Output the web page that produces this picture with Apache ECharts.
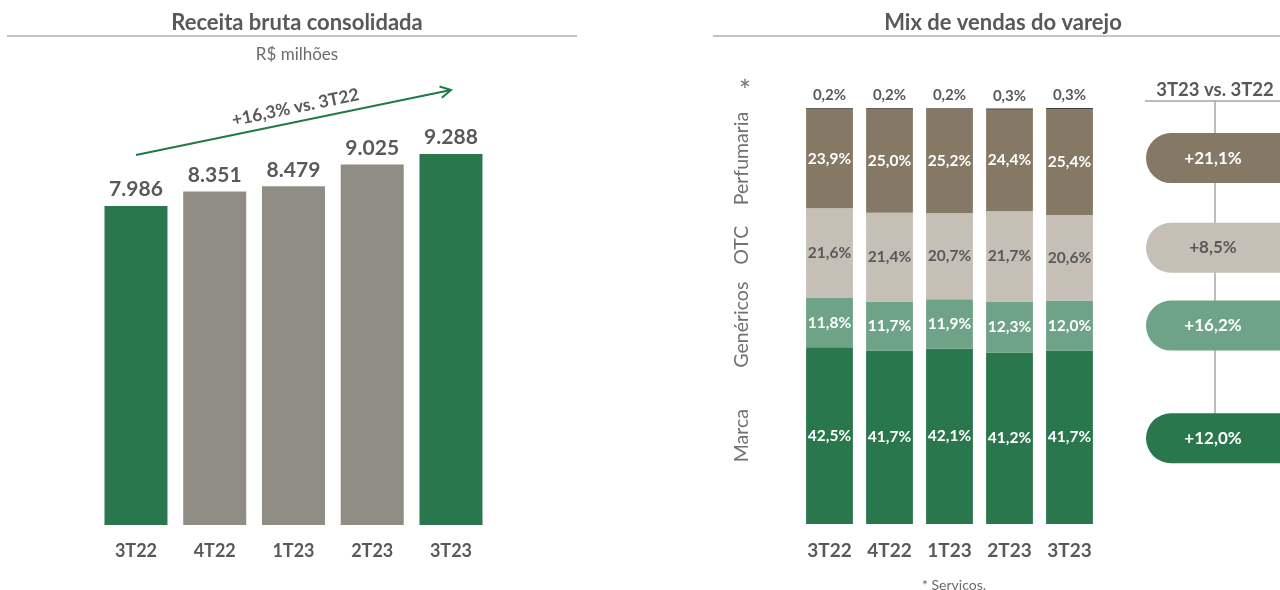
<!DOCTYPE html>
<html lang="pt-BR">
<head>
    <meta charset="UTF-8">
    <title>Receita bruta e mix de vendas</title>
    <script src="https://cdn.jsdelivr.net/npm/echarts@6/dist/echarts.min.js"></script>
    <style type="text/css">
        html, body {
            margin: 0;
            padding: 0;
            background: #ffffff;
        }

        #chart {
            width: 1280px;
            height: 590px;
        }
    </style>
</head>
<body>
<div id="chart"></div>
<script type="text/javascript">
    // dados
    const trimestres = ['3T22', '4T22', '1T23', '2T23', '3T23'];
    const receitaBruta = [7986, 8351, 8479, 9025, 9288];
    const variacaoReceita = '+16,3% vs. 3T22';

    const segmentos = ['Marca', 'Genéricos', 'OTC', 'Perfumaria', '*'];
    const marca = [42.5, 41.7, 42.1, 41.2, 41.7];
    const genericos = [11.8, 11.7, 11.9, 12.3, 12.0];
    const otc = [21.6, 21.4, 20.7, 21.7, 20.6];
    const perfumaria = [23.9, 25.0, 25.2, 24.4, 25.4];
    const servicos = [0.2, 0.2, 0.2, 0.3, 0.3];
    // 3T23 vs. 3T22, na ordem Marca, Genéricos, OTC, Perfumaria
    const crescimento = ['+12,0%', '+16,2%', '+8,5%', '+21,1%'];

    const FONT = 'Lato';
    const CINZA_TEXTO = '#595959';
    const VERDE = '#2a764d';
    const cores = ['#2a764d', '#6fa387', '#c6bfb5', '#857864', '#3b3b3b'];
    const corTextoSeg = ['#ffffff', '#ffffff', '#595959', '#ffffff', '#595959'];
    // pequenos ajustes verticais (px) dos rótulos laterais e das pílulas
    const ajusteRotulo = [0, 2, -8, 0];
    const ajustePilula = [1, 0, -10, -4];

    function milhar(v) {
        return String(v).replace(/\B(?=(\d{3})+(?!\d))/g, '.');
    }

    function pct(v) {
        return v.toFixed(1).replace('.', ',') + '%';
    }

    const chart = echarts.init(document.getElementById('chart'));

    const mixSeries = [marca, genericos, otc, perfumaria, servicos].map((vals, i) => ({
        name: segmentos[i],
        type: 'bar',
        stack: 'mix',
        xAxisIndex: 1,
        yAxisIndex: 1,
        barCategoryGap: '22%',
        data: vals,
        itemStyle: {color: cores[i]},
        label: {
            show: true,
            position: i === 4 ? 'top' : 'inside',
            distance: 5,
            formatter: p => pct(p.value),
            color: corTextoSeg[i],
            fontFamily: FONT,
            fontWeight: 'bold',
            fontSize: i === 4 ? 15 : 15.5
        }
    }));

    chart.setOption({
        animation: false,
        textStyle: {fontFamily: FONT},
        title: [
            {
                text: 'Receita bruta consolidada', left: 292, top: 7, textAlign: 'center',
                textStyle: {fontSize: 22, fontWeight: 'bold', color: CINZA_TEXTO, fontFamily: FONT}
            },
            {
                text: 'R$ milhões', left: 292, top: 41, textAlign: 'center',
                textStyle: {fontSize: 17, fontWeight: 'normal', color: '#6b6b6b', fontFamily: FONT}
            },
            {
                text: 'Mix de vendas do varejo', left: 998, top: 7, textAlign: 'center',
                textStyle: {fontSize: 22, fontWeight: 'bold', color: CINZA_TEXTO, fontFamily: FONT}
            },
            {
                text: '* Serviços.', left: 949, top: 573, textAlign: 'center',
                textStyle: {fontSize: 14, fontWeight: 'normal', color: '#6b6b6b', fontFamily: FONT}
            }
        ],
        grid: [
            {left: 96.6, width: 393.75, top: 125.5, bottom: 65},
            {left: 799.5, width: 300, top: 108, bottom: 66}
        ],
        xAxis: [
            {
                type: 'category', gridIndex: 0, data: trimestres,
                axisLine: {show: false}, axisTick: {show: false},
                axisLabel: {margin: 17, fontSize: 18, fontWeight: 'bold', color: CINZA_TEXTO, fontFamily: FONT}
            },
            {
                type: 'category', gridIndex: 1, data: trimestres,
                axisLine: {show: false}, axisTick: {show: false},
                axisLabel: {margin: 17, fontSize: 19, fontWeight: 'bold', color: CINZA_TEXTO, fontFamily: FONT}
            }
        ],
        yAxis: [
            {type: 'value', gridIndex: 0, min: 0, max: 10000, show: false},
            {type: 'value', gridIndex: 1, min: 0, max: 100, show: false}
        ],
        series: [
            {
                name: 'Receita bruta',
                type: 'bar',
                barCategoryGap: '20%',
                data: receitaBruta,
                itemStyle: {
                    color: p => (p.dataIndex === 0 || p.dataIndex === receitaBruta.length - 1) ? VERDE : '#8f8d84'
                },
                label: {
                    show: true, position: 'top', distance: 6,
                    formatter: p => milhar(p.value),
                    fontSize: 21, fontWeight: 'bold', color: CINZA_TEXTO, fontFamily: FONT
                }
            }
        ].concat(mixSeries)
    });

    // posições derivadas dos eixos
    const yMix = v => chart.convertToPixel({yAxisIndex: 1}, v);
    const xRec = i => chart.convertToPixel({xAxisIndex: 0}, trimestres[i]);
    const yRec = v => chart.convertToPixel({yAxisIndex: 0}, v);

    const serieMix = [marca, genericos, otc, perfumaria, servicos];
    function meioSegmento(k, seg) {
        let base = 0;
        for (let s = 0; s < seg; s++) base += serieMix[s][k];
        return yMix(base + serieMix[seg][k] / 2);
    }

    const graficos = [];
    // linhas sob os títulos
    graficos.push({
        type: 'line', shape: {x1: 7, y1: 36, x2: 577, y2: 36},
        style: {stroke: '#c4c4c4', lineWidth: 2}
    });
    graficos.push({
        type: 'line', shape: {x1: 713, y1: 36, x2: 1280, y2: 36},
        style: {stroke: '#c4c4c4', lineWidth: 2}
    });

    // seta de crescimento
    const ax1 = xRec(0), ay1 = yRec(receitaBruta[0]) - 51;
    const ax2 = xRec(4), ay2 = yRec(receitaBruta[4]) - 64;
    const ang = Math.atan2(ay2 - ay1, ax2 - ax1);
    graficos.push({
        type: 'line', shape: {x1: ax1, y1: ay1, x2: ax2, y2: ay2},
        style: {stroke: '#1f7a45', lineWidth: 2}
    });
    graficos.push({
        type: 'polyline',
        shape: {
            points: [
                [ax2 - 12 * Math.cos(ang - 0.5), ay2 - 12 * Math.sin(ang - 0.5)],
                [ax2, ay2],
                [ax2 - 12 * Math.cos(ang + 0.5), ay2 - 12 * Math.sin(ang + 0.5)]
            ]
        },
        style: {stroke: '#1f7a45', lineWidth: 2, fill: null}
    });
    graficos.push({
        type: 'text',
        x: (ax1 + ax2) / 2 + 2, y: (ay1 + ay2) / 2 - 15,
        rotation: -ang,
        style: {
            text: variacaoReceita, align: 'center', verticalAlign: 'middle',
            font: 'bold 17.5px ' + FONT, fill: CINZA_TEXTO
        }
    });

    // rótulos verticais dos segmentos
    for (let s = 0; s < 4; s++) {
        graficos.push({
            type: 'text', x: 742, y: meioSegmento(0, s) + ajusteRotulo[s], rotation: Math.PI / 2,
            style: {
                text: segmentos[s], align: 'center', verticalAlign: 'middle',
                font: '19.5px ' + FONT, fill: '#707070'
            }
        });
    }
    graficos.push({
        type: 'text', x: 745, y: yMix(100) - 16,
        style: {text: segmentos[4], align: 'center', verticalAlign: 'middle', font: '28px ' + FONT, fill: '#707070'}
    });

    // comparação 3T23 vs. 3T22
    const px = 1215;
    const pillY = [0, 1, 2, 3].map(s => meioSegmento(4, s) + ajustePilula[s]);
    graficos.push({
        type: 'text', x: px, y: 90,
        style: {text: '3T23 vs. 3T22', align: 'center', verticalAlign: 'middle', font: 'bold 18.5px ' + FONT, fill: CINZA_TEXTO}
    });
    graficos.push({
        type: 'line', shape: {x1: 1145, y1: 101, x2: 1280, y2: 101},
        style: {stroke: '#a6a6a6', lineWidth: 1.5}
    });
    graficos.push({
        type: 'line', shape: {x1: px, y1: 101, x2: px, y2: pillY[0]},
        style: {stroke: '#a6a6a6', lineWidth: 1.5}
    });
    for (let s = 0; s < 4; s++) {
        graficos.push({
            type: 'rect', shape: {x: 1146, y: pillY[s] - 25, width: 170, height: 50, r: 25},
            style: {fill: cores[s]}
        });
        graficos.push({
            type: 'text', x: px - 2, y: pillY[s],
            style: {
                text: crescimento[s], align: 'center', verticalAlign: 'middle',
                font: 'bold 17px ' + FONT, fill: corTextoSeg[s]
            }
        });
    }

    chart.setOption({graphic: graficos});
</script>
</body>
</html>
